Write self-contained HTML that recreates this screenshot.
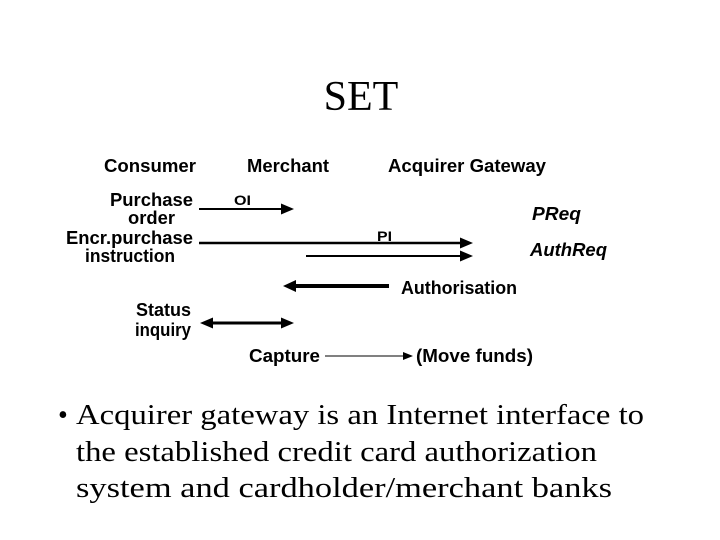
<!DOCTYPE html>
<html><head><meta charset="utf-8"><style>
html,body{margin:0;padding:0;background:#fff;}
svg{display:block;}
.d{font-family:"Liberation Sans",Arial,sans-serif;font-weight:bold;font-size:18px;fill:#000;}
.s{font-family:"Liberation Sans",Arial,sans-serif;font-weight:bold;font-size:14px;fill:#000;}
.t{font-family:"Liberation Serif","Times New Roman",serif;fill:#000;}
</style></head><body>
<svg width="720" height="540" viewBox="0 0 720 540" xmlns="http://www.w3.org/2000/svg">
<text class="t" x="361" y="110" font-size="42" text-anchor="middle">SET</text>

<text class="d" x="104" y="172" textLength="92" lengthAdjust="spacingAndGlyphs">Consumer</text>
<text class="d" x="247" y="172" textLength="82" lengthAdjust="spacingAndGlyphs">Merchant</text>
<text class="d" x="388" y="172" textLength="158" lengthAdjust="spacingAndGlyphs">Acquirer Gateway</text>

<text class="d" x="110" y="206" textLength="83" lengthAdjust="spacingAndGlyphs">Purchase</text>
<text class="d" x="128" y="224" textLength="47" lengthAdjust="spacingAndGlyphs">order</text>
<text class="d" x="66" y="244" textLength="127" lengthAdjust="spacingAndGlyphs">Encr.purchase</text>
<text class="d" x="85" y="262" textLength="90" lengthAdjust="spacingAndGlyphs">instruction</text>
<text class="d" x="136" y="316" textLength="55" lengthAdjust="spacingAndGlyphs">Status</text>
<text class="d" x="135" y="336" textLength="56" lengthAdjust="spacingAndGlyphs">inquiry</text>
<text class="d" x="249" y="362" textLength="71" lengthAdjust="spacingAndGlyphs">Capture</text>
<text class="d" x="416" y="362" textLength="117" lengthAdjust="spacingAndGlyphs">(Move funds)</text>
<text class="d" x="401" y="294" textLength="116" lengthAdjust="spacingAndGlyphs">Authorisation</text>
<text class="d" x="532" y="220" font-style="italic" textLength="49" lengthAdjust="spacingAndGlyphs">PReq</text>
<text class="d" x="530" y="256" font-style="italic" textLength="77" lengthAdjust="spacingAndGlyphs">AuthReq</text>
<text class="s" x="234" y="205" textLength="17" lengthAdjust="spacingAndGlyphs">OI</text>
<text class="s" x="377" y="241" textLength="15" lengthAdjust="spacingAndGlyphs">PI</text>

<g stroke="#000" fill="none">
<line x1="199" y1="209" x2="283" y2="209" stroke-width="2"/>
<line x1="199" y1="243" x2="462" y2="243" stroke-width="2.5"/>
<line x1="306" y1="256" x2="462" y2="256" stroke-width="2"/>
<line x1="294" y1="286" x2="389" y2="286" stroke-width="4"/>
<line x1="211" y1="323" x2="283" y2="323" stroke-width="3"/>
<line x1="325" y1="356" x2="404" y2="356" stroke-width="1"/>
</g>
<g fill="#000">
<polygon points="294,209 281,203.5 281,214.5"/>
<polygon points="473,243 460,237.5 460,248.5"/>
<polygon points="473,256 460,250.5 460,261.5"/>
<polygon points="283,286 296,280 296,292"/>
<polygon points="294,323 281,317.5 281,328.5"/>
<polygon points="200,323 213,317.5 213,328.5"/>
<polygon points="413,356 403,352 403,360"/>
</g>

<text class="t" x="58" y="424" font-size="28">•</text>
<text class="t" x="76" y="424" font-size="28" textLength="568" lengthAdjust="spacingAndGlyphs">Acquirer gateway is an Internet interface to</text>
<text class="t" x="76" y="461" font-size="28" textLength="521" lengthAdjust="spacingAndGlyphs">the established credit card authorization</text>
<text class="t" x="76" y="497" font-size="28" textLength="536" lengthAdjust="spacingAndGlyphs">system and cardholder/merchant banks</text>
</svg>
</body></html>
